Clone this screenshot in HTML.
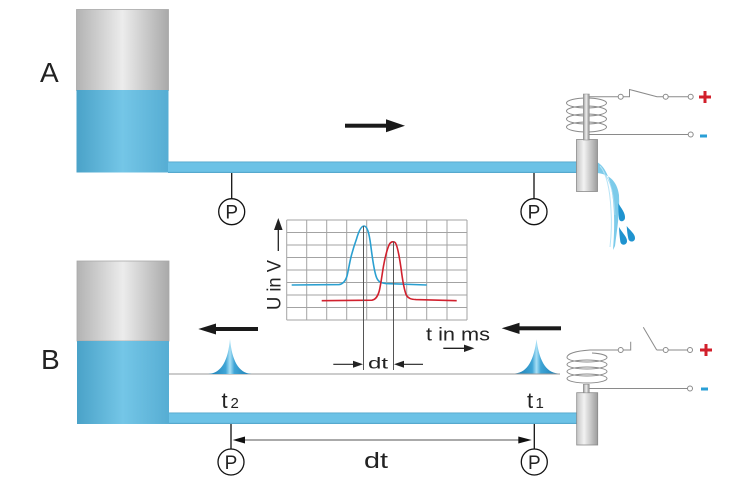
<!DOCTYPE html>
<html>
<head>
<meta charset="utf-8">
<style>
html,body{margin:0;padding:0;background:#fff;}
svg{display:block;}
text{font-family:"Liberation Sans",sans-serif;fill:#222;}
</style>
</head>
<body>
<svg width="755" height="488" viewBox="0 0 755 488" xmlns="http://www.w3.org/2000/svg">
<defs>
<linearGradient id="gray" x1="0" x2="1" y1="0" y2="0">
<stop offset="0" stop-color="#b3b3b3"/>
<stop offset="0.5" stop-color="#ececec"/>
<stop offset="1" stop-color="#a9a9a9"/>
</linearGradient>
<linearGradient id="blue" x1="0" x2="1" y1="0" y2="0">
<stop offset="0" stop-color="#4aa2c8"/>
<stop offset="0.5" stop-color="#74c6e7"/>
<stop offset="1" stop-color="#56add3"/>
</linearGradient>
<linearGradient id="pipe" x1="0" x2="0" y1="0" y2="1">
<stop offset="0" stop-color="#4d9fc4"/>
<stop offset="0.12" stop-color="#6cc2e6"/>
<stop offset="0.85" stop-color="#6cc2e6"/>
<stop offset="1" stop-color="#4d9fc4"/>
</linearGradient>
<linearGradient id="nozzle" x1="0" x2="1" y1="0" y2="0">
<stop offset="0" stop-color="#c4c4c4"/>
<stop offset="0.35" stop-color="#f2f2f2"/>
<stop offset="1" stop-color="#9c9c9c"/>
</linearGradient>
<linearGradient id="rod" x1="0" x2="1" y1="0" y2="0">
<stop offset="0" stop-color="#9a9a9a"/>
<stop offset="0.5" stop-color="#eeeeee"/>
<stop offset="1" stop-color="#8c8c8c"/>
</linearGradient>
<linearGradient id="peak" x1="0" x2="1" y1="0" y2="0">
<stop offset="0" stop-color="#1a7bb0"/>
<stop offset="0.4" stop-color="#3fa5d6"/>
<stop offset="0.5" stop-color="#a8e0f6"/>
<stop offset="0.6" stop-color="#3fa5d6"/>
<stop offset="1" stop-color="#1a7bb0"/>
</linearGradient>
</defs>

<!-- Labels A / B -->
<text x="40" y="82" font-size="28">A</text>
<text x="41" y="369" font-size="28">B</text>

<!-- ============ A ============ -->
<rect x="76.5" y="9.5" width="92" height="81" fill="url(#gray)" stroke="#a8a8a8" stroke-width="0.8"/>
<rect x="76.5" y="90" width="92" height="82.5" fill="url(#blue)"/>
<rect x="168" y="161.5" width="409" height="11.5" fill="url(#pipe)"/>
<rect x="345" y="123.7" width="43" height="4" fill="#1a1a1a"/>
<polygon points="386,119.3 405,125.7 386,132.3" fill="#1a1a1a"/>
<line x1="231.7" y1="173" x2="231.7" y2="198.5" stroke="#111" stroke-width="1.3"/>
<circle cx="231.7" cy="211.7" r="13" fill="#fff" stroke="#111" stroke-width="1.3"/>
<text x="231.7" y="218.5" font-size="19" text-anchor="middle">P</text>
<line x1="534" y1="173" x2="534" y2="198.5" stroke="#111" stroke-width="1.3"/>
<circle cx="534" cy="211.7" r="13" fill="#fff" stroke="#111" stroke-width="1.3"/>
<text x="534" y="218.5" font-size="19" text-anchor="middle">P</text>

<!-- water stream A -->
<path d="M597,162 C606,167 611,180 613,200 C615,220 614,238 613,250 L615,246 C617,230 620,212 619,195 C617,180 608,174 597,173 Z" fill="#7ccbea"/>
<path d="M600,166 C607,174 610,190 611,210 C612,225 611,238 610,247" fill="none" stroke="#b8e4f6" stroke-width="1"/>
<path d="M603,172 C611,180 614,195 615,215" fill="none" stroke="#a6dcf2" stroke-width="0.8"/>
<path d="M618.3,203.3 C621,208 625.5,213 625,218 C624.5,222 619.5,222.5 619,218.5 C618.5,214 618.3,209 618.3,203.3 Z" fill="#1f93cf"/>
<path d="M619,227 C621.5,232 627.5,237 627,241.5 C626.5,245.5 621,246 620.3,241.5 C619.7,237 619.2,232 619,227 Z" fill="#1f93cf"/>
<path d="M626.7,226 C629.5,230 635.5,234 635,238.5 C634.5,242.5 629,242.5 628.3,238.5 C627.5,235 627,230.5 626.7,226 Z" fill="#1f93cf"/>

<!-- nozzle A -->
<rect x="576.5" y="139.5" width="21" height="52" fill="url(#nozzle)" stroke="#8a8a8a" stroke-width="0.8"/>
<g fill="none" stroke="#8a8a8a" stroke-width="1">
<ellipse cx="586.5" cy="103" rx="20" ry="5"/>
<ellipse cx="586.5" cy="111" rx="20" ry="5"/>
<ellipse cx="586.5" cy="119" rx="20" ry="5"/>
<ellipse cx="586.5" cy="127" rx="20" ry="5"/>
</g>
<rect x="583.3" y="94" width="6" height="46" fill="url(#rod)" stroke="#888" stroke-width="0.5"/>
<g fill="none" stroke="#8a8a8a" stroke-width="1">
<line x1="589.3" y1="96.7" x2="618.2" y2="96.7"/>
<polyline points="623.2,96.7 629.5,96.7 629.5,89.5 657,96.7 663.2,96.7"/>
<line x1="668.2" y1="96.7" x2="688.2" y2="96.7"/>
<line x1="589.3" y1="134.5" x2="688.2" y2="134.5"/>
<circle cx="620.7" cy="96.7" r="2.5" fill="#fff"/>
<circle cx="665.7" cy="96.7" r="2.5" fill="#fff"/>
<circle cx="690.7" cy="96.7" r="2.5" fill="#fff"/>
<circle cx="690.7" cy="134.5" r="2.5" fill="#fff"/>
</g>
<rect x="699" y="95.5" width="12" height="3" fill="#d21f2b"/>
<rect x="703.5" y="91" width="3" height="12" fill="#d21f2b"/>
<rect x="700" y="134.5" width="7" height="3" fill="#2a9fd6"/>

<!-- ============ Chart ============ -->
<g stroke="#a3a3a3" stroke-width="1" fill="none">
<line x1="286.7" y1="220" x2="467" y2="220"/>
<line x1="286.7" y1="232.5" x2="467" y2="232.5"/>
<line x1="286.7" y1="245" x2="467" y2="245"/>
<line x1="286.7" y1="257.5" x2="467" y2="257.5"/>
<line x1="286.7" y1="270" x2="467" y2="270"/>
<line x1="286.7" y1="282.5" x2="467" y2="282.5"/>
<line x1="286.7" y1="295" x2="467" y2="295"/>
<line x1="286.7" y1="307.5" x2="467" y2="307.5"/>
<line x1="286.7" y1="320" x2="467" y2="320"/>
<line x1="286.7" y1="220" x2="286.7" y2="320"/>
<line x1="306.7" y1="220" x2="306.7" y2="320"/>
<line x1="326.7" y1="220" x2="326.7" y2="320"/>
<line x1="346.7" y1="220" x2="346.7" y2="320"/>
<line x1="366.7" y1="220" x2="366.7" y2="320"/>
<line x1="386.7" y1="220" x2="386.7" y2="320"/>
<line x1="406.7" y1="220" x2="406.7" y2="320"/>
<line x1="426.7" y1="220" x2="426.7" y2="320"/>
<line x1="447" y1="220" x2="447" y2="320"/>
<line x1="467" y1="220" x2="467" y2="320"/>
</g>
<path d="M291.7,285 L339,284.6 C343,284 345.5,281 347,276 C348.5,270 349.5,263 351,257 C352.5,251 354,246 356.5,239 C358.5,232 361,226 364,226 C367,226 369,232 370.7,245 C372.3,257 373.5,268 376,276 C377.5,281 380,283 386,283.6 L426.7,285" fill="none" stroke="#2a9fd0" stroke-width="1.6"/>
<path d="M321.7,300.7 L372,300.2 C376,299.5 378,296 379.5,290 C381,283 382,275 383.5,266 C385,258 387,249 389.5,244 C391,241.5 394,241 395.5,243 C398,247 399.5,258 401,268 C402.5,280 404,290 406.5,295.5 C408.5,298.5 411,299.3 416,299.6 L456.7,300.7" fill="none" stroke="#d1212e" stroke-width="1.6"/>
<line x1="363.5" y1="226" x2="363.5" y2="370" stroke="#555" stroke-width="1"/>
<line x1="393.5" y1="241.5" x2="393.5" y2="370" stroke="#555" stroke-width="1"/>
<line x1="333.3" y1="364.3" x2="356" y2="364.3" stroke="#222" stroke-width="1.2"/>
<polygon points="363,364.3 353,360.8 353,367.8" fill="#222"/>
<line x1="400" y1="364.3" x2="423" y2="364.3" stroke="#222" stroke-width="1.2"/>
<polygon points="394,364.3 404,360.8 404,367.8" fill="#222"/>
<text x="368" y="368.5" font-size="16" textLength="20" lengthAdjust="spacingAndGlyphs">dt</text>
<text transform="translate(280.5,310) rotate(-90)" font-size="19" textLength="50" lengthAdjust="spacingAndGlyphs">U in V</text>
<line x1="278.3" y1="228" x2="278.3" y2="251" stroke="#222" stroke-width="1.3"/>
<polygon points="278.3,218 274,230 282.6,230" fill="#222"/>
<text x="426" y="340.5" font-size="18" textLength="64" lengthAdjust="spacingAndGlyphs">t in ms</text>
<line x1="443.3" y1="348.3" x2="466" y2="348.3" stroke="#222" stroke-width="1.3"/>
<polygon points="474.5,348.3 464,344.6 464,352" fill="#222"/>

<!-- ============ B ============ -->
<rect x="77" y="261" width="92" height="80" fill="url(#gray)" stroke="#a8a8a8" stroke-width="0.8"/>
<rect x="77" y="341" width="92" height="83" fill="url(#blue)"/>
<line x1="169" y1="374" x2="560" y2="374" stroke="#9a9a9a" stroke-width="1"/>
<path d="M208.3,374 C222,373 228,360 230,339 C232,360 238,373 251.7,374 Z" fill="url(#peak)"/>
<path d="M515,373.5 C528,372.5 534,359 536.5,339.3 C539,359 545,372.5 558,373.5 Z" fill="url(#peak)"/>
<rect x="213" y="327" width="45" height="4" fill="#1a1a1a"/>
<polygon points="198.3,329 216,323.5 216,334.5" fill="#1a1a1a"/>
<rect x="517" y="326.3" width="44" height="4" fill="#1a1a1a"/>
<polygon points="501.7,328.3 519.5,322.7 519.5,334" fill="#1a1a1a"/>
<rect x="169" y="412.5" width="408" height="11.5" fill="url(#pipe)"/>
<text x="221.5" y="408" font-size="22">t</text>
<text x="230.5" y="408" font-size="15">2</text>
<text x="527" y="408" font-size="22">t</text>
<text x="535.5" y="408" font-size="15">1</text>
<line x1="231" y1="424" x2="231" y2="449" stroke="#111" stroke-width="1.3"/>
<circle cx="231" cy="462" r="13" fill="#fff" stroke="#111" stroke-width="1.3"/>
<text x="231" y="468.8" font-size="19" text-anchor="middle">P</text>
<line x1="534.3" y1="424" x2="534.3" y2="449" stroke="#111" stroke-width="1.3"/>
<circle cx="534.3" cy="462" r="13" fill="#fff" stroke="#111" stroke-width="1.3"/>
<text x="534.3" y="468.8" font-size="19" text-anchor="middle">P</text>
<line x1="240" y1="440" x2="524" y2="440" stroke="#555" stroke-width="1"/>
<polygon points="232.7,440 245,436.5 245,443.5" fill="#111"/>
<polygon points="531.7,440 518.3,436.5 518.3,443.5" fill="#111"/>
<text x="364" y="468" font-size="22" textLength="24" lengthAdjust="spacingAndGlyphs">dt</text>

<!-- nozzle B -->
<rect x="576.7" y="392.7" width="21" height="52.3" fill="url(#nozzle)" stroke="#8a8a8a" stroke-width="0.8"/>
<rect x="583.3" y="384.3" width="6" height="8.5" fill="url(#rod)" stroke="#888" stroke-width="0.5"/>
<g fill="none" stroke="#8a8a8a" stroke-width="1">
<path d="M567,357.5 C567,353.5 576,351 590,350 L618.2,350"/>
<path d="M567,357.5 C567,360 576,362 587,362 C598,362 607,360 607,357.5 C607,355 600,353.5 592,353"/>
<ellipse cx="587" cy="364.5" rx="20" ry="4.5"/>
<ellipse cx="587" cy="371.5" rx="20" ry="4.5"/>
<ellipse cx="587" cy="378.5" rx="20" ry="4.5"/>
<polyline points="623.2,350 630.7,350 630.7,341.7"/>
<line x1="643.3" y1="327.3" x2="656.7" y2="350"/>
<line x1="656.7" y1="350" x2="663.2" y2="350"/>
<line x1="668.2" y1="350" x2="687.5" y2="350"/>
<line x1="589.3" y1="388.5" x2="687.5" y2="388.5"/>
<circle cx="620.7" cy="350" r="2.5" fill="#fff"/>
<circle cx="665.7" cy="350" r="2.5" fill="#fff"/>
<circle cx="690" cy="350" r="2.5" fill="#fff"/>
<circle cx="690" cy="388.5" r="2.5" fill="#fff"/>
</g>
<rect x="700" y="348.5" width="12" height="3" fill="#d21f2b"/>
<rect x="704.5" y="344" width="3" height="12" fill="#d21f2b"/>
<rect x="701" y="387.5" width="7" height="3" fill="#2a9fd6"/>
</svg>
</body>
</html>
